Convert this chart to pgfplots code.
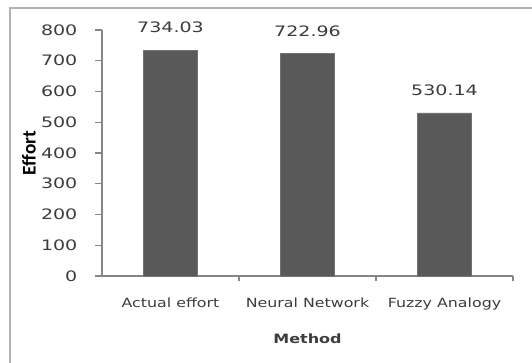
\documentclass[border=0pt]{standalone}
\usepackage{pgfplots}
\pgfplotsset{compat=1.18}
\usepackage{fontspec}
\setmainfont{DejaVu Sans}[FakeStretch=1.25]
\newfontfamily\numfont{DejaVu Sans}[FakeStretch=1.32]
\newfontfamily\efont{Carlito}
\definecolor{barc}{RGB}{89,89,89}
\definecolor{axc}{RGB}{134,134,134}
\definecolor{txt}{RGB}{60,60,60}
\begin{document}
\begin{tikzpicture}
\useasboundingbox (0,0) rectangle (399pt,271.5pt);
\draw[line width=1.5pt, color=black!30] (7.5pt,-5pt) -- (7.5pt,265.5pt) -- (405pt,265.5pt);
\begin{axis}[
  at={(76.5pt,64.5pt)}, anchor=south west,
  scale only axis, width=308.25pt, height=184.5pt,
  ybar, bar width=40.5pt, bar shift=0pt,
  xmin=-0.5, xmax=2.5, ymin=0, ymax=800,
  enlarge x limits=false,
  axis x line=bottom, axis y line=left,
  axis line style={-, color=axc, line width=0.8pt},
  xtick={0,1,2}, xticklabels={Actual effort, Neural Network, Fuzzy Analogy},
  minor xtick={0.5,1.5,2.5},
  ytick={0,100,...,800},
  tick align=outside,
  major x tick style={draw=none},
  minor tick length=4pt,
  major tick length=5pt,
  tick style={color=axc, line width=0.8pt},
  /pgf/number format/assume math mode=true,
  yticklabel style={font=\numfont\fontsize{10.8}{12}\selectfont, color=txt, xshift=-10pt},
  xticklabel style={font=\fontsize{9.5}{11}\selectfont, color=txt, yshift=-7.5pt},
  xlabel={\bfseries Method},
  xlabel style={font=\fontsize{9.6}{11}\selectfont, color=txt, yshift=-11pt},
  ylabel={\efont\bfseries Effort},
  ylabel style={font=\fontsize{14.5}{16}\selectfont, color=black, yshift=-3pt},
  nodes near coords,
  nodes near coords style={font=\numfont\fontsize{10.8}{12}\selectfont, color=txt, yshift=9.5pt,
    /pgf/number format/.cd, fixed, fixed zerofill, precision=2},
]
\addplot[fill=barc, draw=barc!85] coordinates {(0,734.03) (1,722.96) (2,530.14)};
\end{axis}
\end{tikzpicture}
\end{document}
